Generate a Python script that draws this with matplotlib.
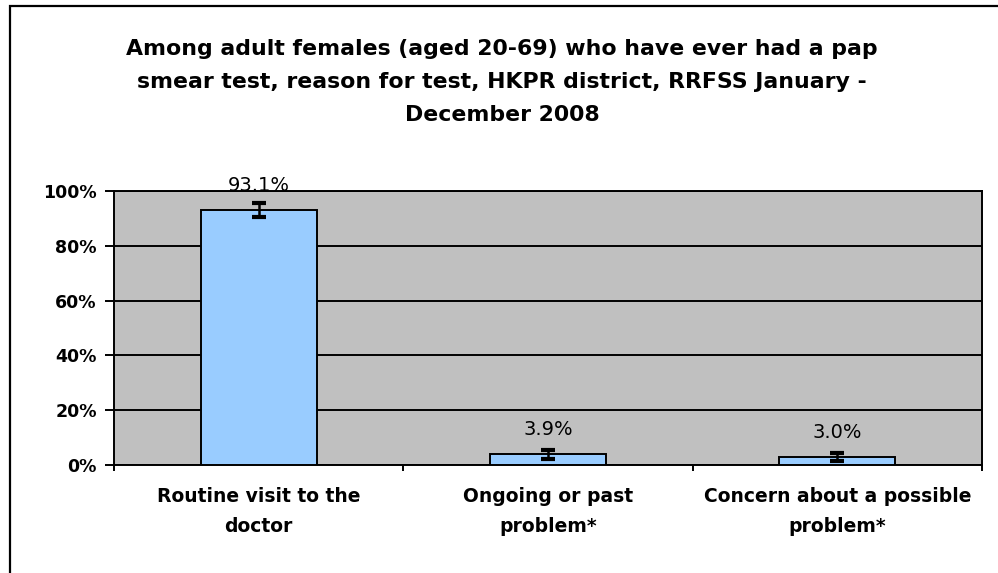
import matplotlib.pyplot as plt
import matplotlib.patches as patches
import numpy as np

categories = ["Routine visit to the\ndoctor", "Ongoing or past\nproblem*", "Concern about a possible\nproblem*"]
values = [93.1, 3.9, 3.0]
errors = [2.7, 1.7, 1.5]
labels = ["93.1%", "3.9%", "3.0%"]
yticks = [0, 20, 40, 60, 80, 100]

plt.rcParams['font.family'] = ['DejaVu Sans']

fig = plt.figure(figsize=(9.98, 5.73), dpi=100)
ax = fig.add_axes([114/998, 108/573, 868/998, 274/573])
ax.set_facecolor('#C0C0C0')

x = np.arange(len(categories))
ax.bar(x, values, width=0.4, color='#99CCFF', edgecolor='black', linewidth=1.4, zorder=3)
ax.errorbar(x, values, yerr=errors, fmt='none', ecolor='black', elinewidth=1.8,
            capsize=5, capthick=3, zorder=4)
for xi, v, lab in zip(x, values, labels):
    ax.annotate(lab, (xi, v), xytext=(0, 11), textcoords='offset points',
                ha='center', va='bottom', fontsize=14, zorder=5)

ax.set_xlim(-0.5, 2.5)
ax.set_ylim(0, 100)
ax.set_yticks(yticks)
ax.set_yticklabels([f"{t}%" for t in yticks], fontsize=12.5, fontweight='bold')
ax.yaxis.grid(True, color='black', linewidth=1.4, zorder=1)
ax.set_axisbelow(True)

ax.set_xticks([-0.5, 0.5, 1.5, 2.5])
ax.set_xticklabels([])
ax.set_xticks(x, minor=True)
ax.set_xticklabels(categories, minor=True, fontsize=13.5, fontweight='bold', linespacing=1.75)
ax.tick_params(axis='x', which='minor', length=0, pad=16)
ax.tick_params(axis='x', which='major', length=4.5, width=1.4, direction='out')
ax.tick_params(axis='y', which='major', length=6.5, width=1.4, direction='out', pad=6)

for s in ax.spines.values():
    s.set_linewidth(1.4)
    s.set_color('black')

fig.text(0.503, 1 - 82/573,
         "Among adult females (aged 20-69) who have ever had a pap\n"
         "smear test, reason for test, HKPR district, RRFSS January -\n"
         "December 2008",
         ha='center', va='center', fontsize=15.8, fontweight='bold', linespacing=1.8)

border = patches.Rectangle((10/998, -0.1), 1.2, 1.1 - 6/573, transform=fig.transFigure,
                           fill=False, edgecolor='black', linewidth=1.6)
fig.patches.append(border)

fig.savefig("out.png", dpi=100)
